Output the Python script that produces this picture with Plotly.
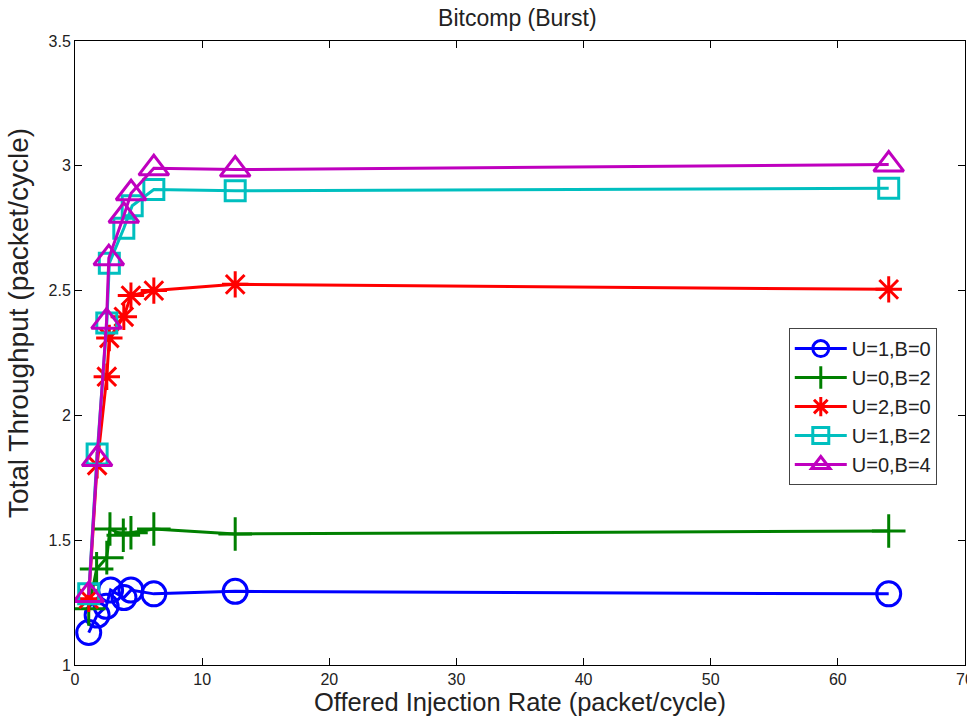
import plotly.graph_objects as go

# Data
x_u1b0 = [1.08, 1.74, 2.45, 2.8, 3.85, 4.4, 6.2, 12.6, 64]
y_u1b0 = [1.13, 1.20, 1.235, 1.30, 1.27, 1.30, 1.285, 1.295, 1.285]

x_u0b2 = [1.08, 1.7, 2.5, 2.75, 3.8, 4.4, 6.2, 12.6, 64]
y_u0b2 = [1.225, 1.385, 1.43, 1.545, 1.52, 1.53, 1.545, 1.525, 1.537]

x_u2b0 = [1.08, 1.74, 2.5, 2.7, 3.84, 4.4, 6.2, 12.6, 64]
y_u2b0 = [1.265, 1.80, 2.155, 2.31, 2.395, 2.48, 2.50, 2.525, 2.505]

x_u1b2 = [1.08, 1.74, 2.5, 2.7, 3.84, 4.5, 6.2, 12.6, 64]
y_u1b2 = [1.285, 1.845, 2.37, 2.61, 2.75, 2.84, 2.905, 2.90, 2.91]

x_u0b4 = [1.08, 1.74, 2.48, 2.66, 3.84, 4.41, 6.2, 12.6, 64]
y_u0b4 = [1.28, 1.825, 2.375, 2.63, 2.80, 2.89, 2.99, 2.985, 3.005]

series = [
    ("U=1,B=0", x_u1b0, y_u1b0, "#0000ff", "circle-open"),
    ("U=0,B=2", x_u0b2, y_u0b2, "#008000", "cross-thin-open"),
    ("U=2,B=0", x_u2b0, y_u2b0, "#ff0000", "asterisk-open"),
    ("U=1,B=2", x_u1b2, y_u1b2, "#00bfbf", "square-open"),
    ("U=0,B=4", x_u0b4, y_u0b4, "#bf00bf", "triangle-up-open"),
]

sizes = {"circle-open": 24, "cross-thin-open": 24, "asterisk-open": 22,
         "square-open": 20, "triangle-up-open": 26}

fig = go.Figure()
for name, xs, ys, color, sym in series:
    fig.add_trace(go.Scatter(
        x=xs, y=ys, name=name, mode="lines+markers",
        line=dict(color=color, width=3),
        marker=dict(symbol=sym, size=sizes[sym], color=color,
                    line=dict(color=color, width=3)),
    ))

font_main = "Liberation Sans, Arial, sans-serif"
fig.update_layout(
    width=967, height=718,
    margin=dict(l=75, r=2, t=41, b=53, autoexpand=False),
    paper_bgcolor="white", plot_bgcolor="white",
    title=dict(text="Bitcomp (Burst)", x=0.535, xanchor="center",
               y=0.975, yanchor="middle",
               font=dict(family=font_main, size=23, color="#222")),
    showlegend=True,
    legend=dict(x=0.802, y=0.54, xanchor="left", yanchor="top",
                bgcolor="white", bordercolor="#444", borderwidth=1,
                font=dict(family=font_main, size=20, color="#222"),
                tracegroupgap=0, itemwidth=52),
    font=dict(family=font_main, color="#222"),
    annotations=[dict(
        text="Total Throughput (packet/cycle)", textangle=-90,
        xref="paper", yref="paper", x=-0.064, y=0.548,
        xanchor="center", yanchor="middle", showarrow=False,
        font=dict(family=font_main, size=28, color="#222"),
    )],
)
fig.update_xaxes(
    range=[0, 70], dtick=10, ticks="inside", ticklen=7, tickcolor="black",
    showline=True, linecolor="black", linewidth=1, mirror="ticks",
    showgrid=False, zeroline=False, ticklabeloverflow="allow", automargin=False,
    tickfont=dict(family=font_main, size=16, color="#222"),
    title=dict(text="Offered Injection Rate (packet/cycle)",
               font=dict(family=font_main, size=25.5, color="#222"),
               standoff=5),
)
fig.update_yaxes(
    range=[1, 3.5], dtick=0.5, ticks="inside", ticklen=7, tickcolor="black",
    showline=True, linecolor="black", linewidth=1, mirror="ticks",
    showgrid=False, zeroline=False, automargin=False,
    tickfont=dict(family=font_main, size=16, color="#222"),
)
fig.write_html("out.html")
